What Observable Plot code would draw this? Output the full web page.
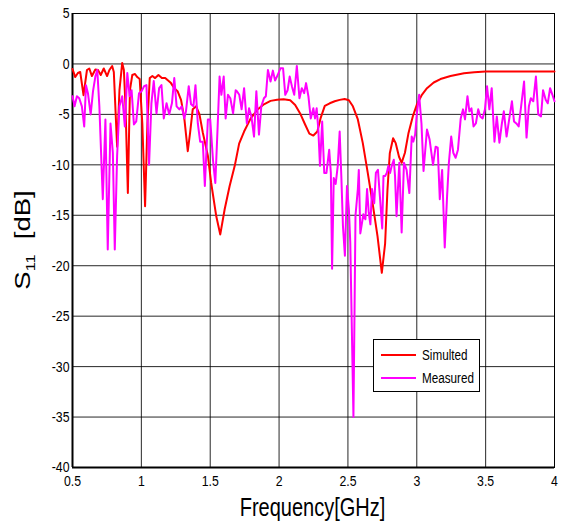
<!DOCTYPE html>
<html><head><meta charset="utf-8">
<script src="https://cdn.jsdelivr.net/npm/d3@7"></script>
<script src="https://cdn.jsdelivr.net/npm/@observablehq/plot@0.6"></script>
<style>
body{margin:0;background:#fff;}
#wrap{position:relative;width:563px;height:521px;font-family:"Liberation Sans",Arial,sans-serif;color:#000;}
.abs{position:absolute;white-space:nowrap;}
</style></head><body><div id="wrap"></div>
<script>
const simFreq = [0.5,0.52,0.539,0.556,0.58,0.605,0.622,0.641,0.666,0.685,0.705,0.727,0.751,0.768,0.788,0.8,0.824,0.841,0.861,0.873,0.885,0.902,0.917,0.934,0.954,0.97,0.988,1.007,1.027,1.044,1.061,1.08,1.1,1.124,1.149,1.173,1.19,1.215,1.239,1.263,1.288,1.312,1.337,1.354,1.373,1.398,1.422,1.446,1.483,1.507,1.544,1.573,1.605,1.641,1.678,1.71,1.746,1.794,1.842,1.89,1.938,1.986,2.033,2.081,2.117,2.153,2.189,2.22,2.249,2.278,2.301,2.332,2.368,2.404,2.44,2.476,2.507,2.536,2.572,2.608,2.644,2.679,2.715,2.746,2.77,2.787,2.804,2.828,2.847,2.871,2.89,2.914,2.939,2.971,3.0,3.037,3.074,3.123,3.172,3.245,3.343,3.417,3.5,4.0];
const simS11 = [-0.5,-1.3,-0.9,-0.8,-3.1,-0.6,-0.45,-1.2,-0.55,-0.6,-1.1,-0.45,-1.2,-0.6,-0.2,-0.8,-8.2,-2.6,0.1,-0.6,-4.2,-12.8,-2.6,-1.1,-1.0,-1.3,-1.5,-5.9,-14.1,-5.9,-1.4,-1.2,-1.4,-1.1,-1.4,-1.4,-1.6,-1.9,-2.4,-2.7,-3.55,-5.4,-8.65,-6.8,-4.5,-4.2,-5.0,-6.8,-9.1,-11.8,-15.1,-16.9,-14.4,-12.1,-10.1,-7.9,-6.7,-5.4,-4.55,-4.0,-3.66,-3.56,-3.5,-3.6,-4.06,-4.9,-6.0,-6.9,-7.1,-6.7,-5.4,-4.16,-3.9,-3.7,-3.56,-3.47,-3.6,-4.2,-5.5,-7.85,-10.8,-13.8,-17.1,-20.7,-17.8,-12.5,-8.85,-7.36,-7.85,-9.2,-9.8,-8.8,-6.9,-5.2,-4.05,-3.06,-2.4,-1.84,-1.5,-1.2,-0.92,-0.82,-0.76,-0.76];
const measFreq = [0.5,0.515,0.532,0.549,0.568,0.585,0.598,0.612,0.632,0.649,0.666,0.68,0.695,0.72,0.739,0.756,0.776,0.793,0.807,0.824,0.841,0.861,0.88,0.898,0.915,0.929,0.946,0.963,0.983,1.002,1.02,1.037,1.056,1.073,1.09,1.11,1.129,1.146,1.163,1.183,1.202,1.222,1.239,1.256,1.276,1.293,1.312,1.324,1.344,1.361,1.378,1.393,1.41,1.427,1.446,1.461,1.483,1.5,1.52,1.537,1.554,1.568,1.581,1.598,1.612,1.629,1.646,1.666,1.685,1.694,1.711,1.728,1.746,1.766,1.782,1.799,1.818,1.835,1.854,1.871,1.89,1.904,1.919,1.938,1.955,1.971,1.99,2.01,2.029,2.045,2.062,2.077,2.093,2.11,2.129,2.148,2.165,2.182,2.196,2.213,2.23,2.249,2.261,2.273,2.285,2.297,2.313,2.328,2.344,2.364,2.376,2.385,2.397,2.411,2.426,2.44,2.452,2.464,2.478,2.493,2.507,2.517,2.54,2.555,2.572,2.579,2.59,2.612,2.627,2.639,2.651,2.663,2.675,2.691,2.703,2.718,2.732,2.749,2.758,2.77,2.782,2.794,2.806,2.818,2.833,2.842,2.853,2.873,2.89,2.907,2.926,2.946,2.963,2.975,2.988,3.0,3.017,3.034,3.049,3.074,3.093,3.118,3.137,3.152,3.167,3.184,3.203,3.22,3.233,3.25,3.265,3.282,3.299,3.319,3.336,3.35,3.368,3.382,3.397,3.412,3.429,3.446,3.461,3.478,3.495,3.51,3.527,3.544,3.564,3.581,3.6,3.618,3.632,3.652,3.672,3.691,3.706,3.723,3.74,3.755,3.779,3.797,3.814,3.828,3.846,3.865,3.882,3.902,3.917,3.936,3.951,3.968,3.985,4.0];
const measS11 = [-3.2,-4.2,-3.2,-3.4,-4.2,-6.2,-2.1,-2.9,-5.0,-2.7,-1.25,-0.6,-4.2,-13.4,-5.5,-18.4,-5.9,-8.8,-18.4,-9.1,-4.2,-3.2,-6.2,-0.9,-3.2,-2.6,-6.0,-5.7,-2.9,-2.7,-2.2,-2.1,-10.0,-3.9,-1.7,-4.9,-2.4,-2.1,-5.4,-3.9,-5.0,-3.9,-1.4,-4.2,-4.5,-4.2,-5.4,-4.7,-2.2,-4.0,-4.2,-2.1,-5.9,-7.7,-7.7,-12.1,-5.5,-5.5,-9.5,-11.8,-6.2,-1.25,-3.06,-1.25,-5.4,-3.06,-3.4,-4.9,-2.6,-2.7,-3.06,-4.5,-2.4,-5.9,-4.4,-5.2,-7.2,-2.7,-7.0,-4.2,-3.4,-3.2,-0.6,-1.74,-0.66,-1.65,-1.1,-0.43,-0.43,-3.06,-2.6,-1.25,-2.2,-3.06,-0.2,-3.4,-2.4,-2.9,-1.9,-3.2,-5.4,-4.4,-5.4,-4.4,-6.5,-10.1,-5.7,-10.8,-10.8,-8.5,-10.8,-20.3,-11.3,-11.9,-10.1,-6.7,-11.1,-16.1,-19.0,-12.1,-14.4,-17.7,-35,-15,-12.4,-10.5,-16.8,-14.9,-15.4,-12.4,-14.7,-15.9,-12.4,-13.8,-10.8,-10.5,-13.1,-16.3,-11.1,-11.1,-10.8,-10.1,-10.8,-10.1,-9.5,-11.1,-15.1,-9.8,-16.7,-9.8,-10.5,-12.8,-7.2,-7.7,-7.0,-5.0,-3.06,-5.9,-10.6,-6.5,-7.5,-10.0,-8.2,-8.3,-13.4,-10.5,-18.2,-13.1,-9.8,-7.2,-8.8,-9.3,-8.5,-5.4,-4.5,-5.5,-3.2,-4.7,-4.4,-6.2,-5.9,-4.5,-5.2,-5.4,-4.5,-2.2,-4.5,-2.4,-7.7,-5.2,-7.8,-5.9,-4.7,-7.2,-5.4,-3.7,-5.7,-5.9,-6.2,-4.5,-1.74,-7.3,-4.2,-3.4,-3.7,-1.25,-5.0,-5.2,-2.6,-3.55,-3.9,-2.4,-3.06,-3.7];
const xTicks = [0.5,1,1.5,2,2.5,3,3.5,4];
const yTicks = [-40,-35,-30,-25,-20,-15,-10,-5,0,5];
const seriesNames = ["Simulted","Measured"];
const seriesColors = ["#ff0000","#ff00ff"];
const xLabel = "Frequency[GHz]";

const sim = simFreq.map((f,i)=>({f, v: simS11[i]}));
const meas = measFreq.map((f,i)=>({f, v: measS11[i]}));

const chart = Plot.plot({
  width: 563, height: 521,
  marginLeft: 72, marginRight: 9, marginTop: 13, marginBottom: 54,
  style: {fontFamily: '"Liberation Sans", Arial, sans-serif', fontSize: "12.3px", background: "#fff", color: "#000", overflow: "visible"},
  x: {domain: [0.5, 4]},
  y: {domain: [-40, 5]},
  marks: [
    Plot.gridX(xTicks, {stroke: "#000", strokeOpacity: 0.85, strokeWidth: 1}),
    Plot.gridY(yTicks, {stroke: "#000", strokeOpacity: 0.85, strokeWidth: 1}),
    Plot.frame({stroke: "#000", strokeWidth: 1}),
    Plot.ruleX([0.5], {stroke: "#000", strokeWidth: 2}),
    Plot.ruleY([-40], {stroke: "#000", strokeWidth: 2}),
    Plot.line(sim, {x: "f", y: "v", stroke: seriesColors[0], strokeWidth: 2}),
    Plot.line(meas, {x: "f", y: "v", stroke: seriesColors[1], strokeWidth: 2}),
    Plot.axisX(xTicks, {tickSize: 0, tickPadding: 9, label: null, tickFormat: d => String(d)}),
    Plot.axisY(yTicks, {tickSize: 0, tickPadding: 3, label: null, tickFormat: d => String(d)})
  ]
});
const wrap = document.getElementById("wrap");
wrap.appendChild(chart);

// vertical stretch of tick labels (as in reference)
d3.select(chart).selectAll('g[aria-label="x-axis tick label"] text, g[aria-label="y-axis tick label"] text').each(function(){
  const bb = this.getBBox();
  const cx = bb.x + bb.width/2, cy = bb.y + bb.height/2;
  const t = this.getAttribute("transform") || "";
  this.setAttribute("transform", t + ` translate(${cx},${cy}) scale(1,1.25) translate(${-cx},${-cy})`);
});

// x label
const xl = document.createElement("div");
xl.className = "abs";
xl.textContent = xLabel;
xl.style.cssText += "left:0;width:563px;text-align:center;top:495px;font-size:20px;line-height:24px;padding-left:62px;box-sizing:border-box;transform:scaleY(1.25);transform-origin:50% 50%;";
wrap.appendChild(xl);

// y label
const yl = document.createElement("div");
yl.className = "abs";
yl.innerHTML = 'S<sub style="font-size:13px;vertical-align:-5px;">11</sub>&nbsp;&nbsp;[dB]';
yl.style.cssText += "left:27px;top:240px;font-size:22px;line-height:26px;transform:translate(-50%,-50%) rotate(-90deg) scaleX(1.25);transform-origin:50% 50%;";
wrap.appendChild(yl);

// legend
const lg = document.createElement("div");
lg.className = "abs";
lg.style.cssText += "left:373px;top:339px;width:105px;height:51px;border:1px solid #000;background:#fff;";
seriesNames.forEach((name, i) => {
  const row = document.createElement("div");
  row.className = "abs";
  row.style.cssText += `left:7px;top:${5 + i*23}px;height:20px;width:98px;`;
  row.innerHTML = `<div class="abs" style="left:0;top:9px;width:35px;height:2px;background:${seriesColors[i]}"></div>` +
    `<div class="abs" style="left:41px;top:0;font-size:11.7px;line-height:20px;transform:scaleY(1.25);transform-origin:0 50%;">${name}</div>`;
  lg.appendChild(row);
});
wrap.appendChild(lg);
</script>
</body></html>
